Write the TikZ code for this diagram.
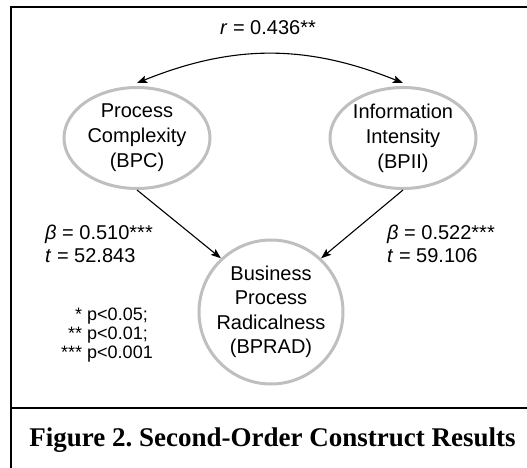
\documentclass[tikz,border=0pt]{standalone}
\usepackage{fontspec}
\setmainfont{Liberation Sans}
\newfontfamily\captionserif{Liberation Serif}
\usetikzlibrary{shapes.geometric,arrows.meta}
\tikzset{semtip/.tip={Stealth[length=10pt,width=7.5pt,inset=2pt]}}
\frenchspacing
\begin{document}
\begin{tikzpicture}[x=1pt,y=-1pt,
  construct/.style={draw=black!25, line width=3pt, inner sep=0pt, align=center,
    font=\fontsize{20}{25}\selectfont},
  effect/.style={-semtip, line width=1.1pt},
  stat/.style={anchor=base west, inner sep=0pt, font=\fontsize{20}{22}\selectfont},
  sigline/.style={anchor=base east, inner sep=0pt, font=\fontsize{18}{19}\selectfont},
  frameline/.style={line width=2pt, line join=miter}]
\useasboundingbox (0,0) rectangle (527,468);

% outer frame and caption separator
\draw[frameline] (11,468) -- (11,7) -- (527,7);
\draw[frameline] (11,408) -- (527,408);

% constructs
\node[construct, ellipse, minimum width=146pt, minimum height=101pt] (bpc) at (137,138)
  {Process\\Complexity\\(BPC)};
\node[construct, ellipse, minimum width=146pt, minimum height=101pt] (bpii) at (403,138)
  {Information\\Intensity\\(BPII)};
\node[construct, circle, minimum size=144pt, font=\fontsize{20}{24.5}\selectfont] (bprad) at (271,312)
  {Business\\Process\\Radicalness\\(BPRAD)};

% correlation between the first-order constructs
\draw[semtip-semtip, line width=1.1pt] ([yshift=3pt]bpc.north) to[out=22,in=158] ([yshift=3pt]bpii.north);
\node[anchor=base, inner sep=0pt, font=\fontsize{20}{24}\selectfont] (rlabel) at (268,35)
  {\textit{r} = 0.436**};

% structural paths
\draw[effect] (bpc.south) -- (bprad.133);
\draw[effect] (bpii.south) -- (bprad.47);

\node[stat] (beta1) at (45,239) {\textit{β} = 0.510***};
\node[stat] (t1) at (45,262) {\textit{t} = 52.843};
\node[stat] (beta2) at (387,239) {\textit{β} = 0.522***};
\node[stat] (t2) at (387,262) {\textit{t} = 59.106};

% significance levels
\node[sigline] (sig1) at (148,320) {* p<0.05;};
\node[sigline] (sig2) at (148,339) {** p<0.01;};
\node[sigline] (sig3) at (153,358) {*** p<0.001};

% caption
\node[anchor=base, inner sep=0pt, font=\captionserif\bfseries\fontsize{27}{31}\selectfont] (caption)
  at (272.5,446) {Figure 2. Second-Order Construct Results};
\end{tikzpicture}
\end{document}
